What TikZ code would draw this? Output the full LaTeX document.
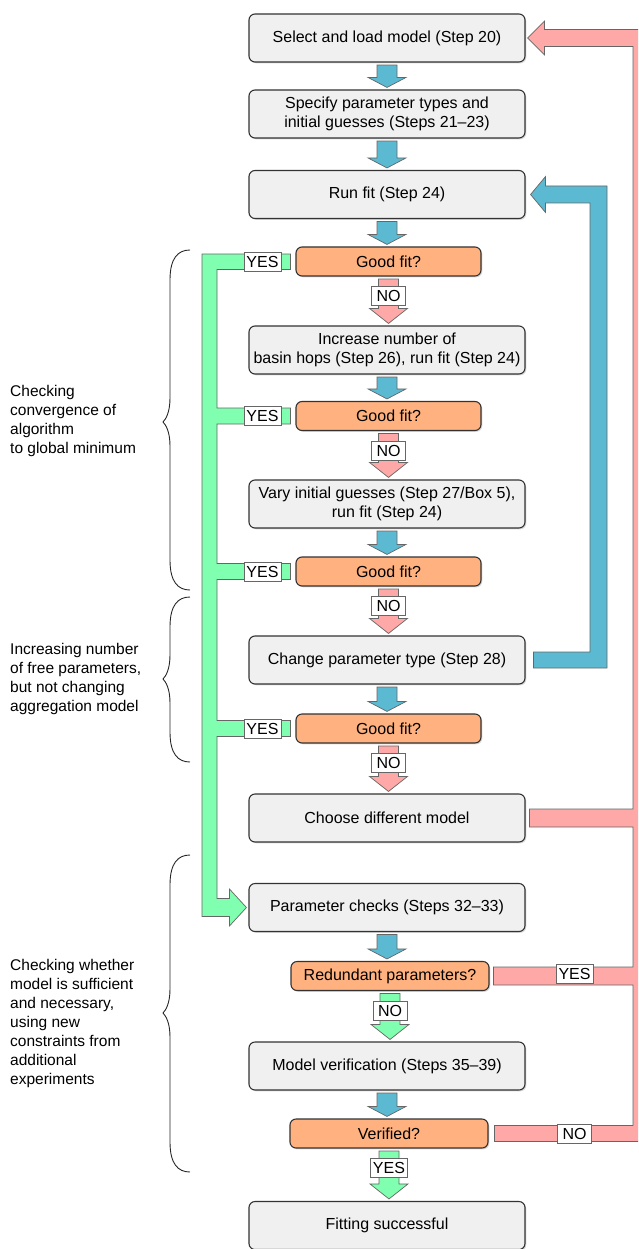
\documentclass[tikz,border=0pt]{standalone}
\usepackage{fontspec}
\setmainfont{Liberation Sans}
\usetikzlibrary{calc,shadows}
\definecolor{boxfill}{HTML}{F0F0F0}
\definecolor{boxline}{HTML}{333333}
\definecolor{qfill}{HTML}{FFB27F}
\definecolor{bluearr}{HTML}{5BB9D2}
\definecolor{pinkarr}{HTML}{FFA8A8}
\definecolor{greenarr}{HTML}{80FFB0}
\definecolor{arrline}{HTML}{666666}
\newcommand\mainfnt{\fontsize{16}{19}\selectfont}
\newcommand\sidefnt{\fontsize{15.5}{19}\selectfont}
\tikzset{
  stepbox/.style={draw=boxline, line width=1.1pt, fill=boxfill, rounded corners=6pt,
    minimum width=276pt, minimum height=48pt, align=center, inner sep=2pt, font=\mainfnt,
    drop shadow={opacity=0.3, shadow xshift=1.3pt, shadow yshift=-1.3pt}},
  qbox/.style={stepbox, fill=qfill, minimum height=29pt},
  lbl/.style={draw=arrline, line width=0.6pt, fill=white, inner xsep=2.5pt, inner ysep=1pt,
    minimum height=19pt, minimum width=34pt, font=\mainfnt},
  blockarrow/.style={draw=arrline, line width=0.7pt, line join=miter},
  sidetext/.style={anchor=west, align=left, font=\sidefnt, inner sep=0pt},
  bracepath/.style={draw=black!85, line width=0.9pt},
}
\newcommand\vconn[4]{\path[blockarrow,fill=#3] let \p1=(#1.south), \p2=(#2.north) in
  (\x1-10pt,\y1-2.5pt) -- (\x1+10pt,\y1-2.5pt) -- (\x1+10pt,\y2+2pt+#4) -- (\x1+19pt,\y2+2pt+#4)
  -- (\x1,\y2+2pt) -- (\x1-19pt,\y2+2pt+#4) -- (\x1-10pt,\y2+2pt+#4) -- cycle;}
\newcommand\sidebrace[3]{\path[bracepath] (190,#1) .. controls (178,#1) and (170,#1-8) .. (170,#1-30)
  -- (170,#3+24) .. controls (170,#3+10) and (166,#3+3) .. (163,#3)
  .. controls (166,#3-3) and (170,#3-10) .. (170,#3-24)
  -- (170,#2+30) .. controls (170,#2+8) and (178,#2) .. (190,#2);}
\begin{document}
\begin{tikzpicture}[x=1pt,y=1pt]
\useasboundingbox (0,0) rectangle (638,-1249);
\clip (0,0) rectangle (638,-1249);

% main boxes
\node[stepbox] (select) at (387,-38) {Select and load model (Step 20)};
\node[stepbox] (specify) at (387,-114) {Specify parameter types and\\initial guesses (Steps 21--23)};
\node[stepbox] (runfit) at (387,-194.5) {Run fit (Step 24)};
\node[qbox, minimum width=185pt] (good1) at (388.5,-261.5) {Good fit?};
\node[stepbox] (increase) at (387,-350) {Increase number of\\basin hops (Step 26), run fit (Step 24)};
\node[qbox, minimum width=185pt] (good2) at (388.5,-416) {Good fit?};
\node[stepbox] (vary) at (387,-504) {Vary initial guesses (Step 27/Box 5),\\run fit (Step 24)};
\node[qbox, minimum width=185pt] (good3) at (388.5,-571.5) {Good fit?};
\node[stepbox] (change) at (387,-660) {Change parameter type (Step 28)};
\node[qbox, minimum width=185pt] (good4) at (388.5,-728.5) {Good fit?};
\node[stepbox] (choose) at (387,-818) {Choose different model};
\node[stepbox] (param) at (387,-907.5) {Parameter checks (Steps 32--33)};
\node[qbox, minimum width=198pt] (redundant) at (390,-976) {Redundant parameters?};
\node[stepbox] (verif) at (387,-1066) {Model verification (Steps 35--39)};
\node[qbox, minimum width=198pt] (verified) at (389,-1133.5) {Verified?};
\node[stepbox] (success) at (387,-1225.5) {Fitting successful};

% vertical block arrows
\vconn{select}{specify}{bluearr}{10pt}
\vconn{specify}{runfit}{bluearr}{10pt}
\vconn{runfit}{good1}{bluearr}{10pt}
\vconn{good1}{increase}{pinkarr}{15pt}
\vconn{increase}{good2}{bluearr}{10pt}
\vconn{good2}{vary}{pinkarr}{15pt}
\vconn{vary}{good3}{bluearr}{10pt}
\vconn{good3}{change}{pinkarr}{15pt}
\vconn{change}{good4}{bluearr}{10pt}
\vconn{good4}{choose}{pinkarr}{15pt}
\vconn{param}{redundant}{bluearr}{10pt}
\vconn{redundant}{verif}{greenarr}{15pt}
\vconn{verif}{verified}{bluearr}{10pt}
\vconn{verified}{success}{greenarr}{15pt}

% helper coordinates
\coordinate (gL) at (202,0);
\coordinate (gR) at (217,0);
\coordinate (bx) at (607,0);
\coordinate (px) at (650,0);
\coordinate (yx) at (262.5,0);
\coordinate (lx) at (574.5,0);

% green YES tree
\path[blockarrow, fill=greenarr]
  ($(gL |- good1)+(0,7.5)$) -- ($(good1.west)+(-5,7.5)$) -- ($(good1.west)+(-5,-8)$) -- ($(gR |- good1)+(0,-8)$)
  -- ($(gR |- good2)+(0,8)$) -- ($(good2.west)+(-5,8)$) -- ($(good2.west)+(-5,-8)$) -- ($(gR |- good2)+(0,-8)$)
  -- ($(gR |- good3)+(0,8)$) -- ($(good3.west)+(-5,8)$) -- ($(good3.west)+(-5,-8)$) -- ($(gR |- good3)+(0,-8)$)
  -- ($(gR |- good4)+(0,8)$) -- ($(good4.west)+(-5,8)$) -- ($(good4.west)+(-5,-8)$) -- ($(gR |- good4)+(0,-8)$)
  -- ($(gR |- param)+(0,9)$) -- ($(param.west)+(-19,9)$) -- ($(param.west)+(-19,18.5)$)
  -- ($(param.west)+(-2,0)$) -- ($(param.west)+(-19,-18.5)$) -- ($(param.west)+(-19,-9)$)
  -- ($(gL |- param)+(0,-9)$) -- cycle;

% blue loop back to run fit
\path[blockarrow, fill=bluearr]
  ($(change.east)+(8,8)$) -- ($(bx |- change)+(-17,8)$) -- ($(bx |- runfit)+(-17,-8.5)$)
  -- ($(runfit.east)+(20,-8.5)$) -- ($(runfit.east)+(20,-18)$) -- ($(runfit.east)+(5,0)$)
  -- ($(runfit.east)+(20,18)$) -- ($(runfit.east)+(20,8.5)$) -- ($(bx |- runfit)+(0,8.5)$)
  -- ($(bx |- change)+(0,-8)$) -- ($(change.east)+(8,-8)$) -- cycle;

% pink loop back to select
\path[blockarrow, fill=pinkarr]
  ($(choose.east)+(4,9)$) -- ($(px |- choose)+(-17,9)$) -- ($(px |- select)+(-17,-8.5)$)
  -- ($(select.east)+(19,-8.5)$) -- ($(select.east)+(19,-17)$) -- ($(select.east)+(2,0)$)
  -- ($(select.east)+(19,17)$) -- ($(select.east)+(19,8.5)$) -- ($(px |- select)+(0,8.5)$)
  -- ($(px |- verified)+(0,-8)$) -- ($(verified.east)+(6,-8)$) -- ($(verified.east)+(6,8)$)
  -- ($(px |- verified)+(-17,8)$) -- ($(px |- redundant)+(-17,-9)$) -- ($(redundant.east)+(4,-9)$)
  -- ($(redundant.east)+(4,9)$) -- ($(px |- redundant)+(-17,9)$) -- ($(px |- choose)+(-17,-9)$)
  -- ($(choose.east)+(4,-9)$) -- cycle;

% labels
\node[lbl] (y1) at (yx |- good1) {YES};
\node[lbl] (y2) at (yx |- good2) {YES};
\node[lbl] (y3) at (yx |- good3) {YES};
\node[lbl] (y4) at (yx |- good4) {YES};
\node[lbl] (n1) at ($(good1.south)+(0,-19.5)$) {NO};
\node[lbl] (n2) at ($(good2.south)+(0,-19.5)$) {NO};
\node[lbl] (n3) at ($(good3.south)+(0,-19.5)$) {NO};
\node[lbl] (n4) at ($(good4.south)+(0,-19.5)$) {NO};
\node[lbl] (n5) at ($(redundant.south)+(0,-19.5)$) {NO};
\node[lbl] (y5) at ($(verified.south)+(0,-19)$) {YES};
\node[lbl] (y6) at ($(lx |- redundant)+(0,2)$) {YES};
\node[lbl] (n6) at (lx |- verified) {NO};

% side annotations
\sidebrace{-250}{-590}{-422}
\sidebrace{-597}{-762}{-679}
\sidebrace{-855}{-1172}{-1013}
\node[sidetext] (t1) at (10,-421) {Checking\\convergence of\\algorithm\\to global minimum};
\node[sidetext] (t2) at (10,-679) {Increasing number\\of free parameters,\\but not changing\\aggregation model};
\node[sidetext] (t3) at (10,-1023) {Checking whether\\model is sufficient\\and necessary,\\using new\\constraints from\\additional\\experiments};
\end{tikzpicture}
\end{document}
